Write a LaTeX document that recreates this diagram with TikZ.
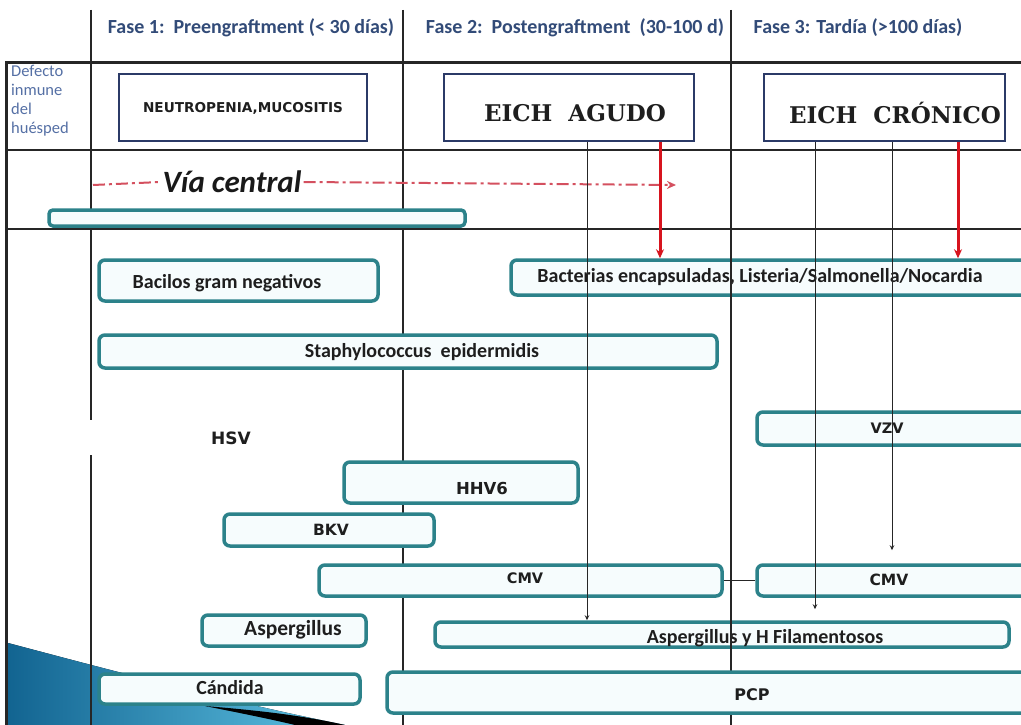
\documentclass[tikz,border=0pt]{standalone}
\usepackage{fontspec}
\setmainfont{Carlito}
\newfontfamily\dvs{DejaVu Sans}
\newfontfamily\dvserif{DejaVu Serif}
\usetikzlibrary{arrows.meta}
\definecolor{teal1}{RGB}{44,130,138}
\definecolor{navy}{RGB}{43,58,103}
\definecolor{hdr}{RGB}{50,75,120}
\definecolor{defc}{RGB}{85,112,165}
\definecolor{redA}{RGB}{215,20,30}
\definecolor{redD}{RGB}{212,80,95}
\definecolor{boxfill}{RGB}{246,252,253}
\definecolor{swL}{RGB}{18,100,145}
\definecolor{swR}{RGB}{95,195,228}
\definecolor{txt}{RGB}{30,30,30}
\tikzset{
  tbox/.style={draw=teal1, line width=3.5pt, rounded corners=6pt, fill=boxfill, inner sep=0pt},
  nbox/.style={draw=navy, line width=2.5pt, fill=white, inner sep=0pt},
  hdrtext/.style={text=hdr, font=\fontsize{20}{22}\selectfont\bfseries, inner sep=0pt},
  ctext/.style={text=txt, font=\fontsize{20}{22}\selectfont\bfseries, inner sep=0pt},
  vtext/.style={text=txt, font=\dvs\fontsize{15.5}{17}\selectfont\bfseries, inner sep=0pt},
  etext/.style={text=txt, font=\dvserif\fontsize{23}{25}\selectfont\bfseries, inner sep=0pt},
  grid/.style={draw=black!85, line width=1.3pt},
  conn/.style={draw=black!85, line width=1pt, -{Stealth[length=5pt,width=4.5pt]}},
  redarr/.style={draw=redA, line width=3pt, -{Stealth[length=9pt,width=8pt]}},
  viadash/.style={draw=redD, line width=2pt, dash pattern=on 12pt off 4pt on 3pt off 4pt}
}
\begin{document}
\begin{tikzpicture}[x=1pt,y=-1pt]
\useasboundingbox (0,0) rectangle (1021,725);
\clip (0,0) rectangle (1021,725);
\fill[white] (0,0) rectangle (1021,725);
% decorative swoosh bottom-left
\fill[left color=swL, right color=swR] (8,643) .. controls (80,662) and (220,700) .. (345,725) -- (8,725) -- cycle;
\fill[black] (205,706) .. controls (265,711) and (305,716) .. (345,725) -- (295,725) .. controls (270,719) and (240,713) .. (205,706) -- cycle;
% grid lines
\draw[grid, line width=3pt] (6,63) -- (1021,63);
\draw[grid, line width=1.5pt] (6,150) -- (1021,150);
\draw[grid, line width=2.5pt] (6,229) -- (1021,229);
\draw[grid, line width=3pt] (6,61.5) -- (6,725);
\draw[grid] (91,10) -- (91,420);
\draw[grid] (91,455) -- (91,725);
\draw[grid] (403,10) -- (403,725);
\draw[grid] (731,10) -- (731,725);
% headers
\node[hdrtext] (f1) at (251,28) {Fase 1:\ \ Preengraftment (< 30 días)};
\node[hdrtext] (f2) at (575,28) {Fase 2:\ \ Postengraftment\ \ (30-100 d)};
\node[hdrtext] (f3) at (858,28) {Fase 3: Tardía (>100 días)};
\node[text=defc, font=\fontsize{16.5}{19}\selectfont, align=left, anchor=north west, inner sep=0pt] (def) at (11,65) {Defecto\\inmune\\del\\huésped};
% navy boxes
\node[nbox, minimum width=248pt, minimum height=67pt] (neut) at (243,107.5) {};
\node[text=txt, font=\dvs\fontsize{13.6}{15}\selectfont\bfseries, inner sep=0pt] (neutt) at (243,108) {NEUTROPENIA,MUCOSITIS};
\node[nbox, minimum width=250pt, minimum height=67pt] (agudo) at (569,107.5) {};
\node[etext] (agudot) at (575,113) {EICH\ \ AGUDO};
\node[nbox, minimum width=241pt, minimum height=67pt] (cronico) at (884.5,107.5) {};
\node[etext] (cronicot) at (895,113) {EICH\ \ CRÓNICO};
% via central
\node[tbox, rounded corners=4pt, minimum width=416pt, minimum height=16pt] (via) at (257,218) {};
\node[text=black!90, font=\fontsize{31}{33}\selectfont\bfseries\itshape, inner sep=2pt] (viat) at (232,182) {Vía central};
\coordinate (vs) at (93,185);
\coordinate (ve) at (676,185);
\draw[viadash] (vs) -- (viat.west);
\draw[viadash, -{Stealth[length=9pt,width=8pt]}] (viat.east) -- (ve);
% teal boxes
\node[tbox, minimum width=279pt, minimum height=41pt] (bac) at (238.5,280.5) {};
\node[ctext] (bact) at (227,283) {Bacilos gram negativos};
\node[tbox, minimum width=522pt, minimum height=35pt] (enc) at (772,277.5) {};
\node[ctext] (enct) at (760,277) {Bacterias encapsuladas, Listeria/Salmonella/Nocardia};
\node[tbox, minimum width=618pt, minimum height=33pt] (staph) at (408,351.5) {};
\node[ctext] (stapht) at (422,352) {Staphylococcus\ \ epidermidis};
\node[vtext, font=\dvs\fontsize{17}{19}\selectfont\bfseries] (hsv) at (231,438) {HSV};
\node[tbox, minimum width=276pt, minimum height=33pt] (vzv) at (895,428.5) {};
\node[vtext, font=\dvs\fontsize{14.5}{16}\selectfont\bfseries] (vzvt) at (887,428) {VZV};
\node[tbox, minimum width=234pt, minimum height=41pt] (hhv) at (461,482.5) {};
\node[vtext, font=\dvs\fontsize{16.5}{18}\selectfont\bfseries] (hhvt) at (482,488) {HHV6};
\node[tbox, minimum width=210pt, minimum height=32pt] (bkv) at (329,530) {};
\node[vtext] (bkvt) at (331,530) {BKV};
\node[tbox, minimum width=403pt, minimum height=31pt] (cmvl) at (520.5,580.5) {};
\node[vtext, font=\dvs\fontsize{14.5}{16}\selectfont\bfseries] (cmvlt) at (525,578) {CMV};
\node[tbox, minimum width=276pt, minimum height=31pt] (cmvr) at (895,580.5) {};
\node[vtext] (cmvrt) at (889,580) {CMV};
\node[tbox, minimum width=164pt, minimum height=31pt] (asp) at (284,630.5) {};
\node[ctext, font=\fontsize{21.5}{23}\selectfont\bfseries] (aspt) at (293,630) {Aspergillus};
\node[tbox, minimum width=574pt, minimum height=25pt] (asph) at (722,634.5) {};
\node[ctext] (aspht) at (765,638) {Aspergillus y H Filamentosos};
\node[tbox, minimum width=261pt, minimum height=30pt] (cand) at (229.5,689) {};
\node[ctext] (candt) at (230,688) {Cándida};
% divider over boxes (as in the reference)
\coordinate (d1) at (731,229);
\coordinate (d2) at (731,670);
\draw[grid] (d1) -- (d2);
\node[tbox, minimum width=646pt, minimum height=41pt] (pcp) at (710,692.5) {};
\node[vtext, font=\dvs\fontsize{16}{18}\selectfont\bfseries] (pcpt) at (752,695) {PCP};
% connectors
\coordinate (x587) at (587,0);
\coordinate (x815) at (815,0);
\coordinate (x892) at (892,0);
\coordinate (x660) at (660,0);
\coordinate (x958) at (958,0);
\draw[conn] (agudo.south -| x587) -- (asph.north -| x587);
\draw[conn, shorten >=11pt] (cronico.south -| x815) -- (asph.north -| x815);
\draw[conn, shorten >=13pt] (cronico.south -| x892) -- (cmvr.north -| x892);
\draw[draw=black!85, line width=1.2pt] (cmvl.east) -- (cmvr.west);
\draw[redarr] (agudo.south -| x660) -- (enc.north -| x660);
\draw[redarr] (cronico.south -| x958) -- (enc.north -| x958);
\end{tikzpicture}
\end{document}
